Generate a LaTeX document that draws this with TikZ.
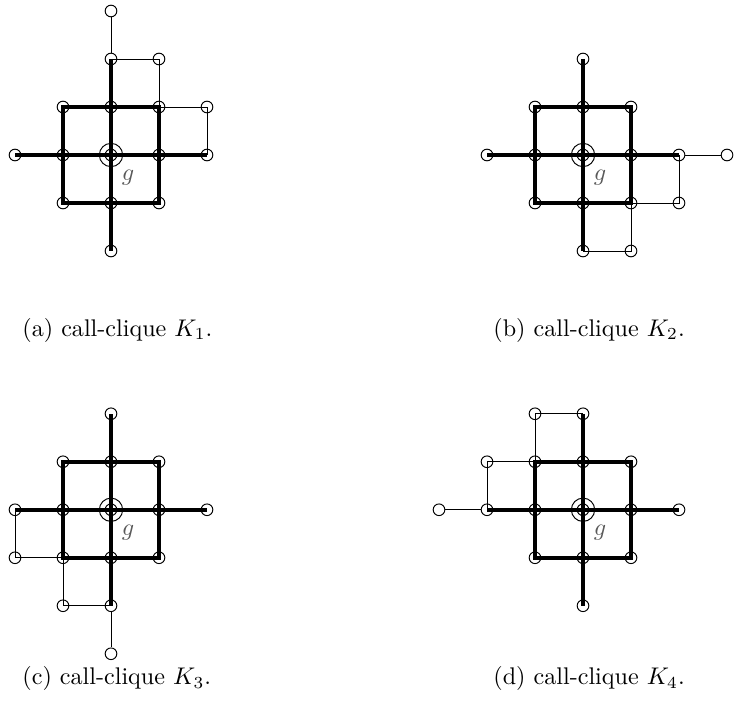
\documentclass[tikz,border=0pt]{standalone}
\usetikzlibrary{calc}

\begin{document}
\begin{tikzpicture}[x=0.7cm,y=0.7cm]
\tikzset{vtx/.style={draw, circle, inner sep=0pt, minimum size=0.17cm, line width=0.4pt},
  ring/.style={draw, circle, inner sep=0pt, minimum size=0.34cm, line width=0.4pt},
  heavy/.style={line width=1.6pt},
  light/.style={line width=0.4pt},
  gname/.style={inner sep=0pt, text=black!65},
  caption/.style={inner sep=0pt, anchor=base west}}
\useasboundingbox (0,0) rectangle (15.396,-14.729);
% one call-clique per panel, K_2..K_4 are K_1 turned
\foreach \p/\cx/\cy/\ang in {a/2.3125/-3.229/0, b/12.146/-3.229/-90, c/2.3125/-10.62/180, d/12.146/-10.62/90} {
\begin{scope}[shift={(\cx,\cy)}, rotate=\ang]
\node[vtx] (\p-c) at (0,0) {}; \node[ring] (\p-r) at (0,0) {};
\node[vtx] (\p-n1) at (0,1) {}; \node[vtx] (\p-n2) at (0,2) {}; \node[vtx] (\p-n3) at (0,3) {};
\node[vtx] (\p-s1) at (0,-1) {}; \node[vtx] (\p-s2) at (0,-2) {};
\node[vtx] (\p-e1) at (1,0) {}; \node[vtx] (\p-e2) at (2,0) {};
\node[vtx] (\p-w1) at (-1,0) {}; \node[vtx] (\p-w2) at (-2,0) {};
\node[vtx] (\p-nw) at (-1,1) {}; \node[vtx] (\p-ne) at (1,1) {};
\node[vtx] (\p-sw) at (-1,-1) {}; \node[vtx] (\p-se) at (1,-1) {};
\node[vtx] (\p-nne) at (1,2) {}; \node[vtx] (\p-ene) at (2,1) {};
\draw[heavy] (\p-w2.center) -- (\p-e2.center); \draw[heavy] (\p-n2.center) -- (\p-s2.center);
\draw[heavy] (\p-nw.center) -- (\p-ne.center) -- (\p-se.center) -- (\p-sw.center) -- cycle;
\draw[light] (\p-n2) -- (\p-n3);
\draw[light] (\p-n2.center) -- (\p-nne.center) -- (\p-ne.center) -- (\p-ene.center) -- (\p-e2.center);
\end{scope}
\node[gname] (\p-g) at ($(\p-c)+(0.354,-0.479)$) {$g$};
}
\node[caption] (capa) at (0.458,-7.0) {(a) call-clique $K_1$.};
\node[caption] (capb) at (10.27,-7.0) {(b) call-clique $K_2$.};
\node[caption] (capc) at (0.458,-14.27) {(c) call-clique $K_3$.};
\node[caption] (capd) at (10.27,-14.27) {(d) call-clique $K_4$.};
\end{tikzpicture}
\end{document}
